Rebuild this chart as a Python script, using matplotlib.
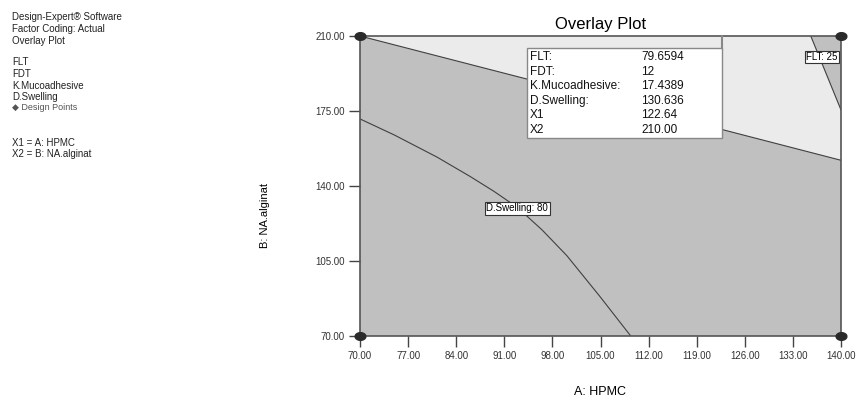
import matplotlib
matplotlib.use("Agg")
import matplotlib.pyplot as plt
import numpy as np
from matplotlib.patches import Polygon, Rectangle

plt.rcParams['font.family'] = ['Liberation Sans', 'DejaVu Sans']

# ---- data ----
x_ticks = [70, 77, 84, 91, 98, 105, 112, 119, 126, 133, 140]
y_ticks = [70, 105, 140, 175, 210]

# boundary of the feasible (light) region, lower edge
bound_x = [70.0, 94.3, 140.0]
bound_y = [210.0, 189.9, 152.0]
# FLT: 25 contour
flt_x = [135.6, 140.0]
flt_y = [210.0, 175.5]
# D.Swelling: 80 contour
sw_x = [70.0, 75.0, 81.2, 86.0, 89.5, 92.9, 96.5, 100.1, 104.9, 109.4]
sw_y = [171.3, 163.8, 153.5, 144.5, 137.5, 130.0, 119.5, 107.5, 88.5, 70.0]

design_x = [70, 140, 70, 140]
design_y = [210, 210, 70, 70]

flag_x1 = 122.64
flag_x2 = 210.00
info_labels = ["FLT:", "FDT:", "K.Mucoadhesive:", "D.Swelling:", "X1", "X2"]
info_values = ["79.6594", "12", "17.4389", "130.636", "122.64", "210.00"]

W, H = 857, 399
fig = plt.figure(figsize=(W / 100, H / 100), dpi=100)
ax = fig.add_axes([360 / W, 1 - 336 / H, (841 - 360) / W, (336 - 36) / H])
ax.set_xlim(70, 140)
ax.set_ylim(70, 210)
ax.set_facecolor('#c0c0c0')

# light feasible region
poly = list(zip(bound_x, bound_y)) + list(zip(flt_x[::-1], flt_y[::-1]))
ax.add_patch(Polygon(poly, closed=True, facecolor='#ebebeb', edgecolor='none', zorder=1))

line_kw = dict(color='#404040', lw=0.8, zorder=2, solid_joinstyle='round')
ax.plot(bound_x, bound_y, **line_kw)
ax.plot(flt_x, flt_y, **line_kw)
ax.plot(sw_x, sw_y, **line_kw)

ax.text(92.9, 129.7, "D.Swelling: 80", fontsize=7, ha='center', va='center', zorder=4,
        bbox=dict(boxstyle='square,pad=0.15', facecolor='white', edgecolor='#333333', lw=0.8))
ax.text(137.2, 200.2, "FLT: 25", fontsize=7, ha='center', va='center', zorder=4,
        bbox=dict(boxstyle='square,pad=0.15', facecolor='white', edgecolor='#333333', lw=0.8))

# flag info box
bx0 = 94.3
by0 = 162.4
by1 = 204.4
ax.add_patch(Rectangle((bx0, by0), flag_x1 - bx0, by1 - by0, facecolor='white',
                       edgecolor='#888888', lw=1.0, zorder=5))
ax.plot([flag_x1, flag_x1], [by1, flag_x2], color='#888888', lw=1.5, zorder=5, clip_on=False)
for i, (lab, val) in enumerate(zip(info_labels, info_values)):
    yp = 57 + i * 14.6
    fig.text(530 / W, 1 - yp / H, lab, fontsize=8.5, ha='left', va='center', color='#111111')
    fig.text(641 / W, 1 - yp / H, val, fontsize=8.5, ha='left', va='center', color='#111111')

# design points (ellipse markers)
t = np.linspace(0, 2 * np.pi, 40)
ell = np.column_stack([1.4 * np.cos(t), np.sin(t)])
ax.scatter(design_x, design_y, marker=ell, s=60, color='#2a2a2a', zorder=6, clip_on=False)

for sp in ax.spines.values():
    sp.set_color('#555555')
    sp.set_linewidth(1.2)

ax.set_xticks(x_ticks)
ax.set_xticklabels([f"{v:.2f}" for v in x_ticks])
ax.set_yticks(y_ticks)
ax.set_yticklabels([f"{v:.2f}" for v in y_ticks])
ax.tick_params(direction='out', length=8, width=1, color='#444444', labelsize=7,
               labelcolor='#333333', pad=3)

ax.set_title("Overlay Plot", fontsize=12, pad=5)
fig.text(600 / W, 1 - 392 / H, "A: HPMC", fontsize=9, ha='center', va='center')
fig.text(265 / W, 1 - 215 / H, "B: NA.alginat", fontsize=8, ha='center', va='center', rotation=90)

left_lines = [
    (17, "Design-Expert® Software"),
    (29, "Factor Coding: Actual"),
    (41, "Overlay Plot"),
    (62, "FLT"),
    (74, "FDT"),
    (86, "K.Mucoadhesive"),
    (97, "D.Swelling"),
    (108, "\u25c6 Design Points"),
    (143, "X1 = A: HPMC"),
    (154, "X2 = B: NA.alginat"),
]
for yp, s in left_lines:
    col = '#555555' if 'Design Points' in s else '#222222'
    fs = 6.5 if 'Design Points' in s else 7
    fig.text(12 / W, 1 - yp / H, s, fontsize=fs, ha='left', va='center', color=col)

fig.savefig("out.png", dpi=100)
